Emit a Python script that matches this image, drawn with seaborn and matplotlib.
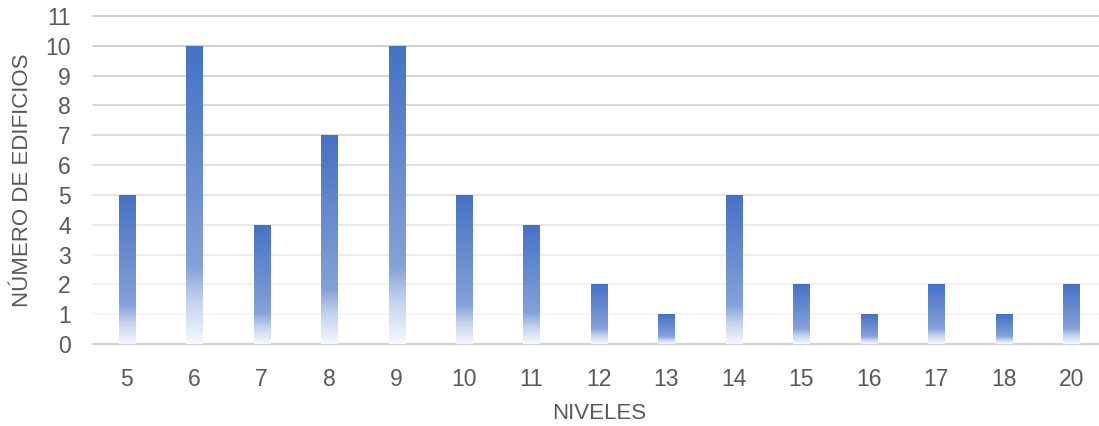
import numpy as np
import pandas as pd
import matplotlib
matplotlib.use("Agg")
import matplotlib.pyplot as plt
import seaborn as sns
from matplotlib.colors import LinearSegmentedColormap

niveles = ["5", "6", "7", "8", "9", "10", "11", "12", "13", "14", "15", "16", "17", "18", "20"]
edificios = [5, 10, 4, 7, 10, 5, 4, 2, 1, 5, 2, 1, 2, 1, 2]
y_ticks = list(range(0, 12))

df = pd.DataFrame({"NIVELES": niveles, "EDIFICIOS": edificios})

sns.set_theme(style="white")
plt.rcParams['font.family'] = ['Liberation Sans', 'DejaVu Sans']

fig = plt.figure(figsize=(10.99, 4.26), dpi=100)
ax = fig.add_axes([93 / 1099, 82 / 426, 1012 / 1099, 328 / 426])

sns.barplot(data=df, x="NIVELES", y="EDIFICIOS", order=niveles, color="#4472C4",
            width=0.24, ax=ax, zorder=3)

cmap = LinearSegmentedColormap.from_list("grad", [
    (0.0, (68/255, 114/255, 196/255)),
    (0.74, (133/255, 161/255, 217/255)),
    (0.86, (196/255, 211/255, 238/255)),
    (1.0, (246/255, 248/255, 253/255)),
])
grad = np.linspace(0, 1, 256).reshape(-1, 1)
for p in list(ax.patches):
    x0, y0 = p.get_x(), p.get_y()
    w, h = p.get_width(), p.get_height()
    p.set_facecolor("none")
    p.set_edgecolor("none")
    im = ax.imshow(grad, cmap=cmap, aspect="auto", extent=[x0, x0 + w, y0, y0 + h],
                   origin="upper", zorder=3, interpolation="bilinear")
    im.set_clip_path(p)

ax.set_xlim(-0.5, len(niveles) - 0.5)
ax.set_ylim(0, 11)
ax.set_yticks(y_ticks)

# gridlines: darker near top, lighter near bottom
grid_cols = {11: "#BFBFBF", 10: "#C3C3C3", 9: "#C8C8C8", 8: "#CDCDCD", 7: "#D2D2D2",
             6: "#D8D8D8", 5: "#DEDEDE", 4: "#E4E4E4", 3: "#EAEAEA", 2: "#EEEEEE",
             1: "#F2F2F2", 0: "#D4D4D4"}
for t in y_ticks:
    ax.axhline(t, color=grid_cols[t], lw=1.1 if t else 1.6, zorder=1, clip_on=False)

for s in ax.spines.values():
    s.set_visible(False)

ax.tick_params(axis="both", length=0, labelsize=16.5, labelcolor="#595959")
ax.tick_params(axis="y", pad=16)
ax.tick_params(axis="x", pad=17)
ax.set_xlabel("NIVELES", fontsize=16, color="#595959", labelpad=9)
ax.set_ylabel("NÚMERO DE EDIFICIOS", fontsize=16, color="#595959", labelpad=9)

fig.savefig("out.png", dpi=100)
